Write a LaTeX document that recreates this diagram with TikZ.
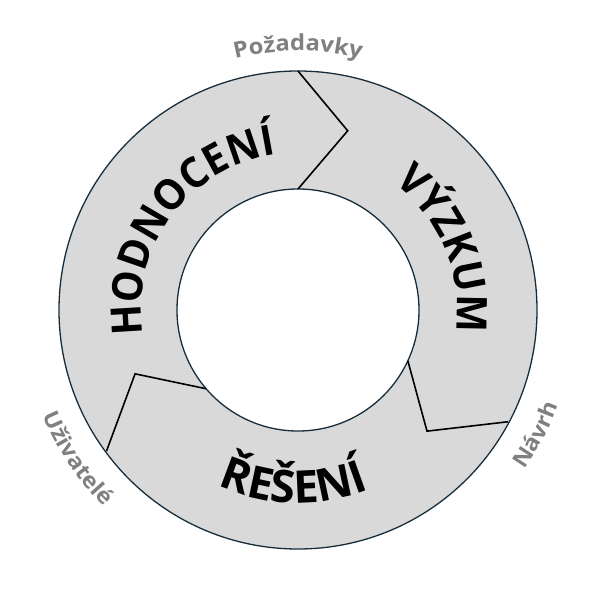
\documentclass[tikz,border=0pt]{standalone}
\usepackage{fontspec}
\setmainfont{Open Sans}
\newfontfamily\narrowfont[FakeStretch=0.95]{Open Sans}
\newfontfamily\widefont[FakeStretch=1.08]{Open Sans}
\usetikzlibrary{decorations.text}
\definecolor{ringfill}{RGB}{217,217,217}
\definecolor{ringline}{RGB}{23,45,60}
\definecolor{labelgray}{RGB}{128,128,128}
\newcommand{\bigtxt}{\narrowfont\bfseries\fontsize{42}{42}\selectfont}
\newcommand{\bottxt}{\bfseries\fontsize{45}{45}\selectfont}
\newcommand{\lbltxt}{\widefont\bfseries\fontsize{22}{22}\selectfont}
\tikzset{
  ringedge/.style={draw=ringline, line width=1.3pt},
  divider/.style={draw=black, line width=1.6pt, line join=miter},
  bigarc/.style={decorate, decoration={text along path, text align=center, text={|\bigtxt|#1}}},
  botarc/.style={decorate, decoration={text along path, text align=center, text={|\bottxt|#1}}},
  lblarc/.style={decorate, decoration={text along path, text align=center, text color=labelgray, text={|\lbltxt|#1}}}
}
\begin{document}
\begin{tikzpicture}[x=1pt,y=1pt]
\useasboundingbox (-298,-290) rectangle (302,310);
\coordinate (c) at (0,0);
\fill[ringfill, even odd rule] (c) circle[radius=239] (c) circle[radius=121];
\path[ringedge] (c) circle[radius=239];
\path[ringedge] (c) circle[radius=121];
% dividers
\coordinate (t1) at (90:239);  \coordinate (t2) at (74.5:186); \coordinate (t3) at (90:121);
\coordinate (r1) at (-28:238); \coordinate (r2) at (-43.2:177); \coordinate (r3) at (-24.8:121);
\coordinate (l1) at (216.4:238); \coordinate (l2) at (201.4:175); \coordinate (l3) at (220.6:121);
\path[divider] (t1) -- (t2) -- (t3);
\path[divider] (r1) -- (r2) -- (r3);
\path[divider] (l1) -- (l2) -- (l3);
% big texts
\path[bigarc={HODNOCENÍ}] (203.5:157) arc[start angle=203.5, end angle=83.5, radius=157];
\path[bigarc={VÝZKUM}] (82.5:159) arc[start angle=82.5, end angle=-37.5, radius=159];
\path[botarc={ŘEŠENÍ}] (208.5:193) arc[start angle=208.5, end angle=328.5, radius=193];
% labels
\path[lblarc={Požadavky}] (150:259) arc[start angle=150, end angle=30, radius=259];
\path[lblarc={Návrh}] (-87.6:277) arc[start angle=-87.6, end angle=32.4, radius=277];
\path[lblarc={Uživatelé}] (154:276) arc[start angle=154, end angle=274, radius=276];
\end{tikzpicture}
\end{document}
